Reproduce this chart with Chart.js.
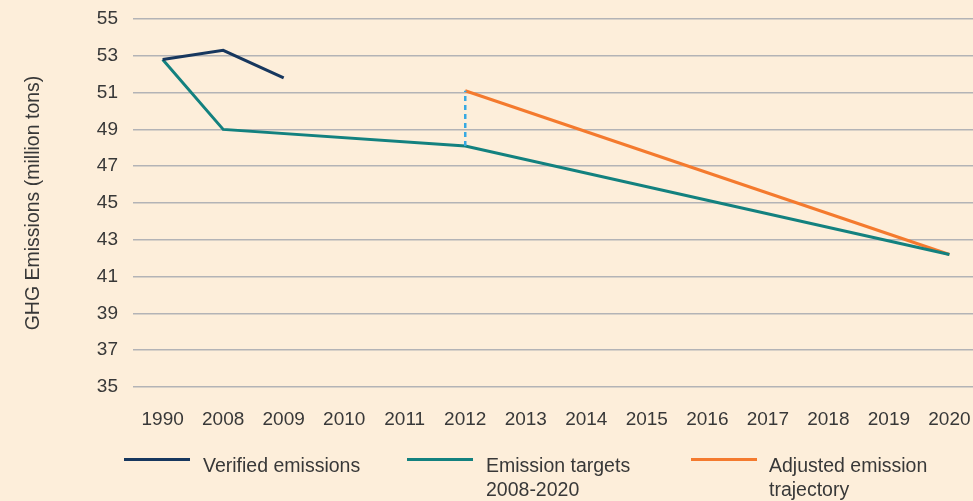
<!DOCTYPE html>
<html>
<head>
<meta charset="utf-8">
<script src="https://cdn.jsdelivr.net/npm/chart.js@4.4.1/dist/chart.umd.min.js"></script>
<style>
    html, body { margin: 0; padding: 0; background: #fdeeda; }
    #wrap { position: relative; width: 973px; height: 501px; overflow: hidden; }
    #chart { position: absolute; left: 0; top: 0; }
    .lg-line { position: absolute; height: 3px; width: 66px; }
    .lg-text { position: absolute; font: 19.5px "Liberation Sans", Arial, sans-serif; color: #383838; line-height: 24px; }
</style>
</head>
<body>
<div id="wrap">
    <canvas id="chart" width="973" height="501"></canvas>
    <div id="legend"></div>
</div>
<script>
// ── Data ─────────────────────────────────────────────────────
const years    = ['1990','2008','2009','2010','2011','2012','2013','2014','2015','2016','2017','2018','2019','2020'];
const verified = [52.8, 53.3, 51.8, null, null, null, null, null, null, null, null, null, null, null];
const targets  = [52.8, 49.0, null, null, null, 48.1, null, null, null, null, null, null, null, 42.2];
const adjusted = [null, null, null, null, null, 51.1, null, null, null, null, null, null, null, 42.2];
const yTicks   = [35, 37, 39, 41, 43, 45, 47, 49, 51, 53, 55];

// ── Colors ───────────────────────────────────────────────────
const NAVY   = '#17375e';
const TEAL   = '#13817f';
const ORANGE = '#f47a2e';
const DASH   = '#37a9e2';
const FONT   = '"Liberation Sans", Arial, sans-serif';
const INK    = '#383838';

// turn a sparse series into {x, y} points (nulls skipped)
function toPoints(arr) {
    return arr.map((v, i) => v == null ? null : { x: i, y: v }).filter(Boolean);
}

// dashed connector where the adjusted trajectory starts
const jumpIdx = adjusted.findIndex(v => v != null);
const jump = [{ x: jumpIdx, y: targets[jumpIdx] }, { x: jumpIdx, y: adjusted[jumpIdx] }];

const series = [
    { label: 'Verified emissions',                     data: toPoints(verified), color: NAVY,   left: 124, textLeft: 203 },
    { label: ['Emission targets', '2008-2020'],        data: toPoints(targets),  color: TEAL,   left: 407, textLeft: 486 },
    { label: ['Adjusted emission', 'trajectory'],      data: toPoints(adjusted), color: ORANGE, left: 691, textLeft: 769 },
];

const datasets = series.map(s => ({
    label: [].concat(s.label).join(' '),
    data: s.data,
    borderColor: s.color,
    borderWidth: 3,
    pointRadius: 0,
    tension: 0,
    fill: false,
}));
datasets.unshift({
    label: 'gap',
    data: jump,
    borderColor: DASH,
    borderWidth: 2.5,
    borderDash: [5, 4],
    pointRadius: 0,
    fill: false,
});

new Chart(document.getElementById('chart'), {
    type: 'line',
    data: { datasets },
    options: {
        responsive: false,
        animation: false,
        layout: { padding: { top: 19, left: 22, right: 0, bottom: 0 } },
        plugins: { legend: { display: false }, tooltip: { enabled: false } },
        scales: {
            x: {
                type: 'linear',
                min: -0.49,
                max: 13.39,
                grid: { display: false },
                border: { display: false },
                afterBuildTicks: sc => { sc.ticks = years.map((_, i) => ({ value: i })); },
                afterFit: sc => { sc.height = 114; sc.paddingLeft = 0; sc.paddingRight = 0; },
                ticks: {
                    autoSkip: false,
                    maxRotation: 0,
                    padding: 13,
                    color: INK,
                    font: { family: FONT, size: 19 },
                    callback: v => years[v],
                },
            },
            y: {
                min: 35,
                max: 55,
                afterBuildTicks: sc => { sc.ticks = yTicks.map(v => ({ value: v })); },
                afterFit: sc => { sc.width = 111; sc.paddingTop = 0; sc.paddingBottom = 0; },
                grid: { color: '#b3b3b6', lineWidth: 1.5, drawTicks: false },
                border: { display: false },
                ticks: {
                    padding: 15,
                    color: INK,
                    font: { family: FONT, size: 19 },
                },
                title: {
                    display: true,
                    text: 'GHG Emissions (million tons)',
                    color: INK,
                    padding: 0,
                    font: { family: FONT, size: 19.5 },
                },
            },
        },
    },
});

// ── Legend (two-line labels) ─────────────────────────────────
const legend = document.getElementById('legend');
series.forEach(s => {
    const line = document.createElement('div');
    line.className = 'lg-line';
    line.style.left = s.left + 'px';
    line.style.top = '458px';
    line.style.background = s.color;
    legend.appendChild(line);

    const txt = document.createElement('div');
    txt.className = 'lg-text';
    txt.style.left = s.textLeft + 'px';
    txt.style.top = '453px';
    txt.innerHTML = [].concat(s.label).join('<br>');
    legend.appendChild(txt);
});
</script>
</body>
</html>
